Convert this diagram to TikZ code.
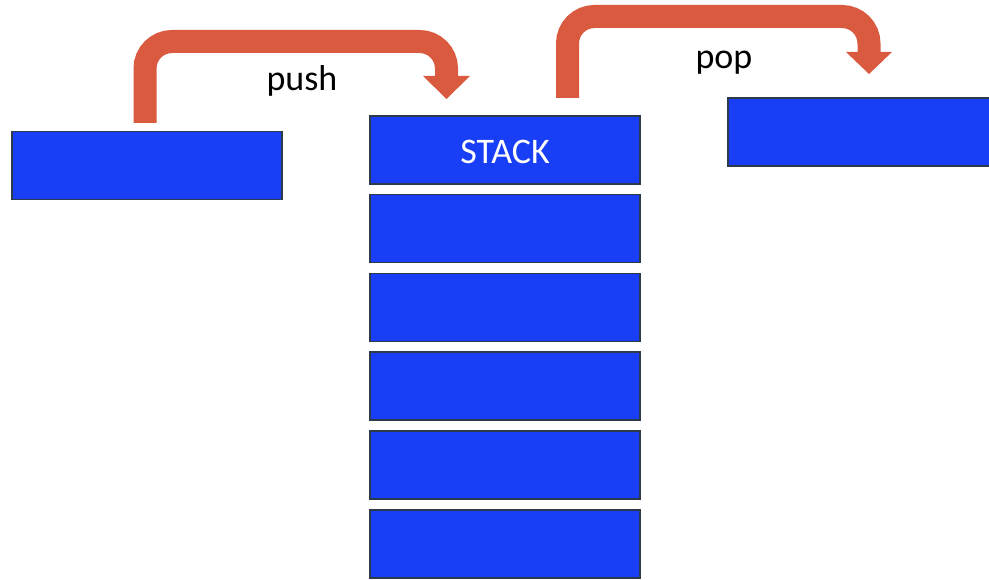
\documentclass[tikz,border=0pt]{standalone}
\usepackage{fontspec}
\setmainfont{Carlito}
\definecolor{cellblue}{RGB}{24,62,246}
\definecolor{celledge}{RGB}{44,58,74}
\definecolor{flow}{RGB}{218,90,64}
\tikzset{
  cell/.style={draw=celledge, line width=1.6pt, fill=cellblue, minimum width=270pt,
    minimum height=68pt, inner sep=0pt, text=white, font=\fontsize{36}{42}\selectfont},
  flowpath/.style={draw=flow, line width=23pt, rounded corners=27pt},
  flowhead/.style={fill=flow},
  lbl/.style={font=\fontsize{36}{42}\selectfont, anchor=base}
}
\begin{document}
\begin{tikzpicture}[x=1pt,y=-1pt]
  \useasboundingbox (0,0) rectangle (989,580);
  % item waiting to be pushed, item that has been popped
  \node[cell] (inbox) at (147,165.5) {};
  \node[cell] (outbox) at (863,132) {};
  % the stack itself
  \node[cell] (s1) at (505,150) {};
  \node[text=white, font=\fontsize{36}{42}\selectfont, anchor=base] (s1lbl) at (505,163.5) {STACK};
  \node[cell] (s2) at (505,228.5) {};
  \node[cell] (s3) at (505,307.5) {};
  \node[cell] (s4) at (505,386) {};
  \node[cell] (s5) at (505,465) {};
  \node[cell] (s6) at (505,544) {};
  % push: from the loose item onto the stack
  \coordinate (pushA) at (145,123);
  \coordinate (pushB) at (446.5,76);
  \draw[flowpath] (pushA) |- (446.5,41.5) -- (pushB);
  \fill[flowhead] (423,76) -- (470,76) -- (446.5,99) -- cycle;
  \node[lbl] (pushlbl) at (302,90.5) {push};
  % pop: from the stack top to the removed item
  \coordinate (popA) at (567.5,98);
  \coordinate (popB) at (869,52);
  \draw[flowpath] (popA) |- (869,16.5) -- (popB);
  \fill[flowhead] (846,52) -- (892,52) -- (869,74) -- cycle;
  \node[lbl] (poplbl) at (724,68.5) {pop};
\end{tikzpicture}
\end{document}
